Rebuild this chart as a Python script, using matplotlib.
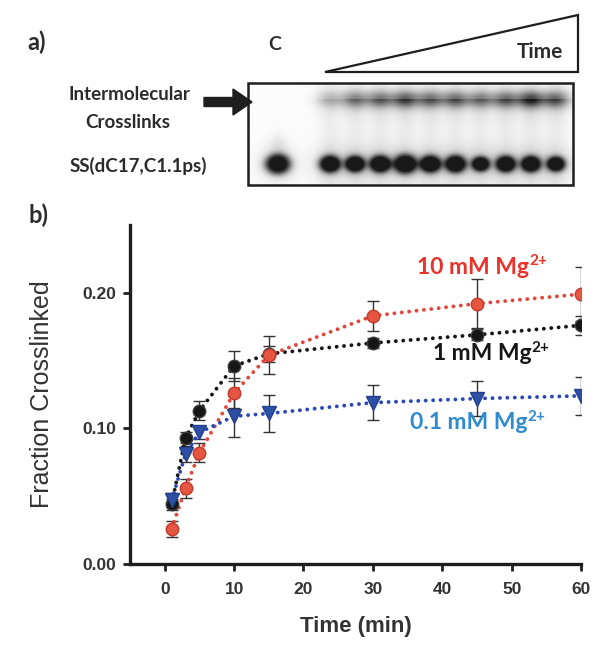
import numpy as np
import matplotlib
matplotlib.use('Agg')
import matplotlib.pyplot as plt
from matplotlib.patches import Rectangle, Polygon, FancyArrow
from matplotlib.ticker import FormatStrFormatter

# panel b data (fraction crosslinked vs time)
time_min = [1, 3, 5, 10, 15, 30, 45, 60]
mg_10 = [0.026, 0.056, 0.082, 0.126, 0.154, 0.183, 0.192, 0.199]
mg_10_err = [0.006, 0.007, 0.007, 0.011, 0.014, 0.011, 0.018, 0.020]
mg_1 = [0.044, 0.093, 0.113, 0.146, 0.155, 0.163, 0.169, 0.176]
mg_1_err = [0.004, 0.004, 0.007, 0.011, 0.006, 0.004, 0.004, 0.007]
mg_01 = [0.047, 0.081, 0.097, 0.109, 0.111, 0.119, 0.122, 0.124]
mg_01_err = [0.005, 0.006, 0.005, 0.015, 0.014, 0.013, 0.013, 0.014]

# panel a gel: band darkness per lane (control + 10 time points)
gel_lanes = ['C'] + ['t%d' % i for i in range(1, 11)]
crosslink_band = [0.0, 0.26, 0.5, 0.56, 0.68, 0.58, 0.6, 0.52, 0.6, 0.8, 0.64]
ss_band = [1.15, 1.0, 0.95, 1.0, 1.1, 1.0, 1.0, 0.85, 0.95, 0.95, 0.88]

TXT = '#2b2b2b'
FONT = 'Lato'

fig = plt.figure(figsize=(6.04, 6.63), dpi=100)

# full-figure canvas in pixel units for panel a
cv = fig.add_axes([0, 0, 1, 1])
cv.axis('off')

gx0, gx1, gy0, gy1 = 248, 573, 83, 185
xs = np.arange(gx0, gx1) + 0.5
ys = np.arange(gy0, gy1) + 0.5
X, Y = np.meshgrid(xs, ys)
lane_x = np.concatenate([[278], np.linspace(330, 556, len(gel_lanes) - 1)])
dark = np.full(X.shape, 0.015)
for i, (lx, xl, ss) in enumerate(zip(lane_x, crosslink_band, ss_band)):
    dx = X - lx
    r = np.sqrt((dx / (10.5 * ss)) ** 2 + ((Y - 164) / (8.5 * ss)) ** 2)
    dark += 0.92 / (1 + np.exp((r - 1) / 0.2))
    dark += 0.12 * np.exp(-(dx / 13) ** 2 / 2 - ((Y - 164) / 12) ** 2 / 2)
    band = np.exp(-(dx / 9.5) ** 2 / 2 - ((Y - 99) / 6) ** 2 / 2)
    tail = np.exp(-(dx / 9) ** 2 / 2) * np.where(Y > 99, np.exp(-(Y - 99) / 12), 0)
    dark += xl * (0.8 * band + 0.3 * tail)
    if i > 0:
        dark += 0.05 * np.exp(-(dx / 8) ** 2 / 2)
    else:
        dark += 0.08 * np.exp(-(dx / 6) ** 2 / 2 - ((Y - 145) / 8) ** 2 / 2)
dark = np.clip(dark, 0, 0.9)
cv.imshow(dark, cmap='gray_r', vmin=0, vmax=1, extent=(gx0, gx1, gy1, gy0),
          interpolation='bilinear', aspect='auto', zorder=1)
cv.add_patch(Rectangle((gx0, gy0), gx1 - gx0, gy1 - gy0, fill=False,
                       ec='#1e1e1e', lw=1.8, zorder=2))
cv.add_patch(Polygon([(325, 72), (578, 15), (578, 72)], closed=True,
                     fc='white', ec='#1e1e1e', lw=1.6, joinstyle='miter'))
cv.add_patch(FancyArrow(204, 102, 48, 0, width=9, head_width=26, head_length=19,
                        length_includes_head=True, color='#1e1e1e'))
cv.set_xlim(0, 604)
cv.set_ylim(663, 0)

cv.text(37, 42, 'a)', fontsize=17, fontweight='bold', family=FONT,
        color=TXT, ha='center', va='center')
cv.text(38, 215, 'b)', fontsize=17, fontweight='bold', family=FONT,
        color=TXT, ha='center', va='center')
cv.text(540, 52, 'Time', fontsize=15, fontweight='bold', family=FONT,
        color=TXT, ha='center', va='center')
cv.text(275, 44, 'C', fontsize=14, fontweight='bold', family=FONT,
        color=TXT, ha='center', va='center')
cv.text(129, 94, 'Intermolecular', fontsize=13.5, fontweight='bold',
        family=FONT, color=TXT, ha='center', va='center')
cv.text(128, 122, 'Crosslinks', fontsize=13.5, fontweight='bold',
        family=FONT, color=TXT, ha='center', va='center')
cv.text(138, 166, 'SS(dC17,C1.1ps)', fontsize=13.5, fontweight='bold',
        family=FONT, color=TXT, ha='center', va='center')

# panel b
ax = fig.add_axes([130 / 604, 1 - 564 / 663, 451 / 604, 339 / 663])
dot = (0, (0.01, 1.9))
series = [
    (mg_1, mg_1_err, '#161616', '#161616', '#3c3c3c', 'o', 9),
    (mg_10, mg_10_err, '#e2453a', '#e6553f', '#c23a2c', 'o', 9),
    (mg_01, mg_01_err, '#2a47b8', '#2d4fa6', '#23408f', 'v', 9.5),
]
for vals, err, lc, fc, ec, mk, ms in series:
    ax.errorbar(time_min, vals, yerr=err, fmt='none', ecolor='#333333',
                elinewidth=1, capsize=4, capthick=1, zorder=2)
    ax.plot(time_min, vals, ls=dot, lw=2.8, dash_capstyle='round', color=lc,
            zorder=3)
    ax.plot(time_min, vals, ls='none', marker=mk, ms=ms, mfc=fc, mec=ec,
            mew=1, zorder=4)

ax.set_xlim(-5, 60)
ax.set_ylim(0, 0.25)
ax.set_xticks([0, 10, 20, 30, 40, 50, 60])
ax.set_yticks([0, 0.1, 0.2])
ax.yaxis.set_major_formatter(FormatStrFormatter('%.2f'))
for s in ['top', 'right']:
    ax.spines[s].set_visible(False)
for s in ['left', 'bottom']:
    ax.spines[s].set_linewidth(2.4)
    ax.spines[s].set_color('#1e1e1e')
ax.tick_params(direction='out', length=5, width=2, color='#1e1e1e',
               labelsize=12.5, labelcolor='#333333')
ax.tick_params(axis='x', pad=8)
ax.tick_params(axis='y', pad=5)
for lbl in ax.get_xticklabels() + ax.get_yticklabels():
    lbl.set_fontweight('bold')
    lbl.set_family('Liberation Sans')

ax.set_ylabel('Fraction Crosslinked', fontsize=18, family='Liberation Sans',
              color='#333333')
ax.yaxis.set_label_coords(-0.168, 0.5)
ax.set_xlabel('Time (min)', fontsize=16, fontweight='bold',
              family='Liberation Sans', color='#333333')
ax.xaxis.set_label_coords(0.5, -0.153)

labels = [
    (36.4, 0.2185, '10 mM Mg', '#e8322a'),
    (38.6, 0.155, '1 mM Mg', '#161616'),
    (35.4, 0.104, '0.1 mM Mg', '#2f8ad0'),
]
for x, y, s, c in labels:
    t = ax.text(x, y, s, fontsize=16.5, fontweight='bold', family=FONT,
                color=c, ha='left', va='center')
    ax.annotate('2+', xy=(1.0, 0.8), xycoords=t, fontsize=11,
                fontweight='bold', family=FONT, color=c,
                ha='left', va='center')

fig.savefig('out.png', dpi=100)
